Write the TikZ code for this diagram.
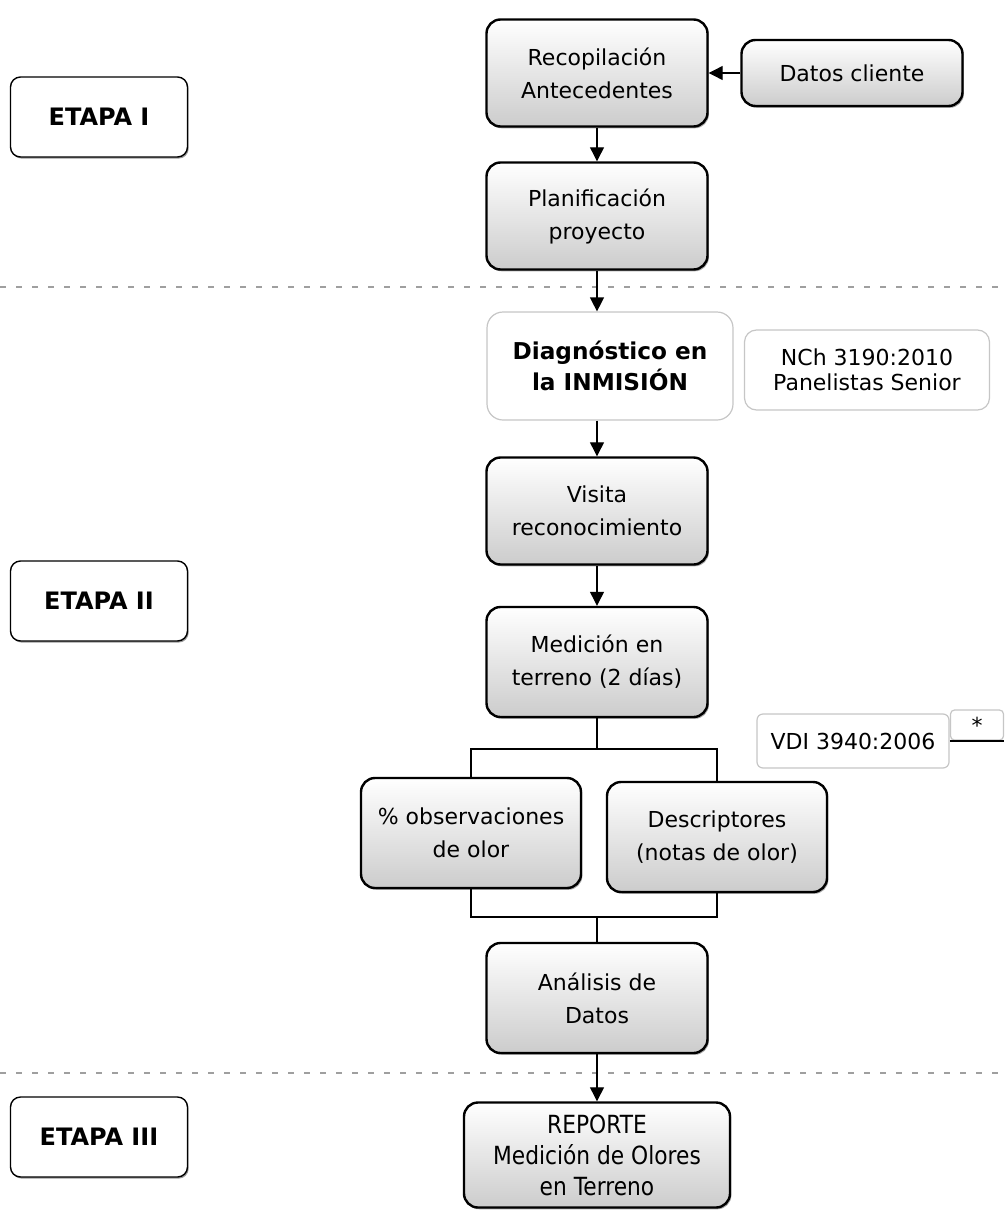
\documentclass[tikz,border=0pt]{standalone}
\usepackage{fontspec}
\setmainfont{DejaVu Sans}
\newfontfamily\estrecha[FakeStretch=0.87]{DejaVu Sans}
\usetikzlibrary{arrows.meta,shadows}

\tikzset{
  paso/.style={draw, line width=1.2pt, rounded corners=7pt, top color=white, bottom color=gray!40,
    align=center, minimum width=110.5pt, minimum height=53.5pt, inner sep=2pt,
    font=\fontsize{11}{16.5}\selectfont,
    drop shadow={shadow xshift=0.7pt, shadow yshift=-0.9pt, opacity=0.7}},
  etapa/.style={draw, line width=0.7pt, rounded corners=5pt, fill=white,
    minimum width=88.5pt, minimum height=40pt, font=\fontsize{12}{14}\selectfont\bfseries,
    drop shadow={shadow xshift=0.6pt, shadow yshift=-0.8pt, opacity=0.8}},
  norma/.style={draw=gray!45, line width=0.6pt, rounded corners=6pt, fill=white,
    align=center, inner sep=2pt, font=\fontsize{11}{12.5}\selectfont},
  separador/.style={-, gray!75, line width=0.7pt, dash pattern=on 3pt off 5pt},
}

\begin{document}
\begin{tikzpicture}[semithick,-{Triangle[length=7pt,width=7pt]},x=0.5pt,y=-0.5pt]
  \useasboundingbox (0,0) rectangle (1007,1210);

  \node[etapa] (etapaI) at (99,117) {ETAPA I};
  \node[etapa] (etapaII) at (99,601) {ETAPA II};
  \node[etapa] (etapaIII) at (99,1137) {ETAPA III};

  \node[paso] (recop) at (597,73) {Recopilación\\Antecedentes};
  \node[paso, minimum height=33pt] (datos) at (852,73) {Datos cliente};
  \node[paso] (plan) at (597,216) {Planificación\\proyecto};
  \node[norma, minimum width=123pt, minimum height=54pt, rounded corners=8pt,
    font=\fontsize{11.6}{15.5}\selectfont\bfseries] (diag) at (610,366) {Diagnóstico en\\la INMISIÓN};
  \node[norma, minimum width=122.5pt, minimum height=40pt] (nch) at (867,370) {NCh 3190:2010\\Panelistas Senior};
  \node[paso] (visita) at (597,511) {Visita\\reconocimiento};
  \node[paso, minimum height=55pt] (medicion) at (597,662) {Medición en\\terreno (2 días)};
  \node[norma, minimum width=96pt, minimum height=27pt, rounded corners=3pt] (vdi) at (853,741) {VDI 3940:2006};
  \node[norma, minimum width=26.5pt, minimum height=15pt, rounded corners=2pt] (ast) at (977,725) {*};
  \node[paso, minimum width=110pt, minimum height=55pt] (obs) at (471,833) {\% observaciones\\de olor};
  \node[paso, minimum width=110pt, minimum height=55pt] (desc) at (717,837) {Descriptores\\(notas de olor)};
  \node[paso, minimum height=55pt] (analisis) at (597,998) {Análisis de\\Datos};
  \node[paso, minimum width=133pt, minimum height=52.5pt,
    font=\estrecha\fontsize{12.5}{15.5}\selectfont] (reporte) at (597,1155) {REPORTE\\Medición de Olores\\en Terreno};

  \coordinate (sepA) at (0,287);
  \coordinate (sepB) at (1007,287);
  \coordinate (sepC) at (0,1073);
  \coordinate (sepD) at (1007,1073);
  \coordinate (split) at (597,749);
  \coordinate (join) at (597,917);

  \draw[separador] (sepA) -- (sepB);
  \draw[separador] (sepC) -- (sepD);

  \path (datos) edge (recop);
  \path (recop) edge (plan);
  \path (plan) edge (plan |- diag.north);
  \path (diag.south -| visita) edge (visita);
  \path (visita) edge (medicion);
  \draw[-] (medicion) -- (split) -| (obs.north);
  \draw[-] (split) -| (desc.north);
  \draw[-] (obs.south) |- (join) -- (analisis.north);
  \draw[-] (desc.south) |- (join);
  \path (analisis) edge (reporte);
  \draw[-, line width=1pt] (ast.south west) -- (ast.south east);

\end{tikzpicture}
\end{document}
